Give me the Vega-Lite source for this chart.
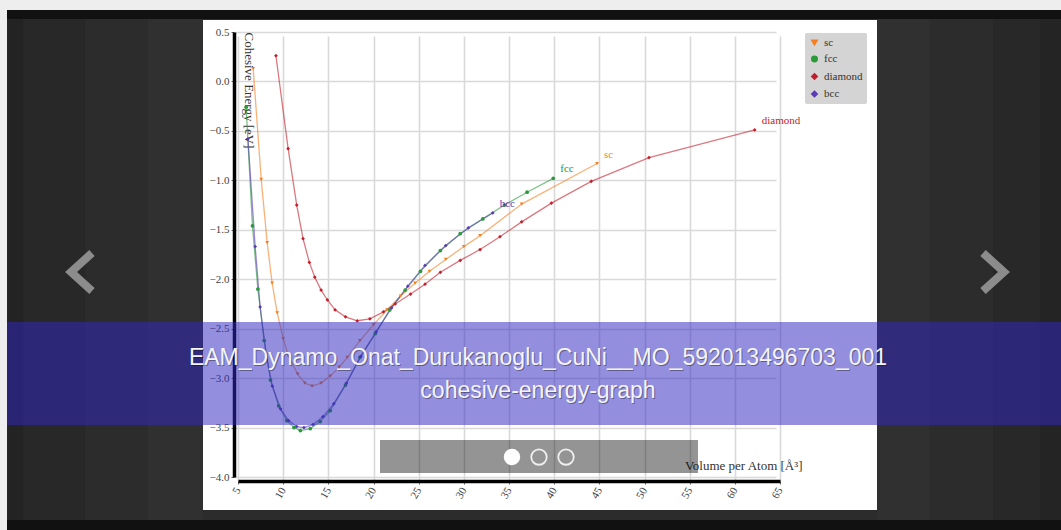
{
  "$schema": "https://vega.github.io/schema/vega-lite/v6.json",
  "width": 542,
  "height": 445,
  "autosize": {"type": "none"},
  "padding": {"left": 238, "top": 32, "right": 281, "bottom": 53},
  "background": "#ffffff",
  "config": {
    "view": {"stroke": null},
    "axis": {
      "grid": true,
      "gridColor": "#d9d9d9",
      "gridWidth": 1.6,
      "domainColor": "#000000",
      "domainWidth": 3.5,
      "offset": 4,
      "tickColor": "#666666",
      "tickSize": 3,
      "labelFont": "Liberation Serif",
      "labelFontSize": 11,
      "labelColor": "#444444",
      "titleFont": "Liberation Serif",
      "titleFontSize": 13,
      "titleFontWeight": "normal",
      "titleColor": "#333333"
    },
    "legend": {
      "fillColor": "#d4d4d4",
      "padding": 4,
      "rowPadding": 4.5,
      "labelFont": "Liberation Serif",
      "labelFontSize": 11,
      "labelColor": "#333333",
      "symbolSize": 30,
      "symbolOpacity": 1,
      "labelOffset": 4,
      "cornerRadius": 2
    }
  },
  "data": {
    "values": [
      {"series": "sc", "x": 6.68, "y": 0.13},
      {"series": "sc", "x": 7.57, "y": -0.99},
      {"series": "sc", "x": 8.23, "y": -1.63},
      {"series": "sc", "x": 8.78, "y": -2.04},
      {"series": "sc", "x": 9.34, "y": -2.34},
      {"series": "sc", "x": 10.0, "y": -2.6},
      {"series": "sc", "x": 10.6, "y": -2.78},
      {"series": "sc", "x": 11.6, "y": -2.96},
      {"series": "sc", "x": 12.4, "y": -3.05},
      {"series": "sc", "x": 13.2, "y": -3.08},
      {"series": "sc", "x": 14.2, "y": -3.05},
      {"series": "sc", "x": 15.2, "y": -2.98},
      {"series": "sc", "x": 16.2, "y": -2.89},
      {"series": "sc", "x": 17.1, "y": -2.79},
      {"series": "sc", "x": 18.5, "y": -2.62},
      {"series": "sc", "x": 20.0, "y": -2.46},
      {"series": "sc", "x": 21.5, "y": -2.31},
      {"series": "sc", "x": 23.0, "y": -2.17},
      {"series": "sc", "x": 24.6, "y": -2.04},
      {"series": "sc", "x": 26.2, "y": -1.92},
      {"series": "sc", "x": 28.0, "y": -1.8},
      {"series": "sc", "x": 30.0, "y": -1.67},
      {"series": "sc", "x": 31.8, "y": -1.56},
      {"series": "sc", "x": 36.4, "y": -1.24},
      {"series": "sc", "x": 44.75, "y": -0.83},
      {"series": "fcc", "x": 5.9, "y": -0.26},
      {"series": "fcc", "x": 6.6, "y": -1.46},
      {"series": "fcc", "x": 7.2, "y": -2.1},
      {"series": "fcc", "x": 7.9, "y": -2.62},
      {"series": "fcc", "x": 8.6, "y": -3.02},
      {"series": "fcc", "x": 9.5, "y": -3.28},
      {"series": "fcc", "x": 10.4, "y": -3.43},
      {"series": "fcc", "x": 11.2, "y": -3.5},
      {"series": "fcc", "x": 11.9, "y": -3.53},
      {"series": "fcc", "x": 13.0, "y": -3.51},
      {"series": "fcc", "x": 14.1, "y": -3.44},
      {"series": "fcc", "x": 15.2, "y": -3.33},
      {"series": "fcc", "x": 16.9, "y": -3.07},
      {"series": "fcc", "x": 18.5, "y": -2.79},
      {"series": "fcc", "x": 20.2, "y": -2.55},
      {"series": "fcc", "x": 21.8, "y": -2.31},
      {"series": "fcc", "x": 23.5, "y": -2.11},
      {"series": "fcc", "x": 25.2, "y": -1.92},
      {"series": "fcc", "x": 27.4, "y": -1.71},
      {"series": "fcc", "x": 29.6, "y": -1.54},
      {"series": "fcc", "x": 32.1, "y": -1.39},
      {"series": "fcc", "x": 34.5, "y": -1.25},
      {"series": "fcc", "x": 37.0, "y": -1.12},
      {"series": "fcc", "x": 39.9, "y": -0.98},
      {"series": "diamond", "x": 9.2, "y": 0.26},
      {"series": "diamond", "x": 10.55, "y": -0.68},
      {"series": "diamond", "x": 11.5, "y": -1.25},
      {"series": "diamond", "x": 12.2, "y": -1.59},
      {"series": "diamond", "x": 12.9, "y": -1.83},
      {"series": "diamond", "x": 13.5, "y": -1.98},
      {"series": "diamond", "x": 14.2, "y": -2.11},
      {"series": "diamond", "x": 14.9, "y": -2.21},
      {"series": "diamond", "x": 15.75, "y": -2.31},
      {"series": "diamond", "x": 16.9, "y": -2.38},
      {"series": "diamond", "x": 18.2, "y": -2.42},
      {"series": "diamond", "x": 19.6, "y": -2.4},
      {"series": "diamond", "x": 21.1, "y": -2.33},
      {"series": "diamond", "x": 22.4, "y": -2.25},
      {"series": "diamond", "x": 24.1, "y": -2.15},
      {"series": "diamond", "x": 25.7, "y": -2.05},
      {"series": "diamond", "x": 27.4, "y": -1.93},
      {"series": "diamond", "x": 29.6, "y": -1.81},
      {"series": "diamond", "x": 31.8, "y": -1.7},
      {"series": "diamond", "x": 34.0, "y": -1.57},
      {"series": "diamond", "x": 36.4, "y": -1.42},
      {"series": "diamond", "x": 39.7, "y": -1.23},
      {"series": "diamond", "x": 44.1, "y": -1.01},
      {"series": "diamond", "x": 50.5, "y": -0.77},
      {"series": "diamond", "x": 62.2, "y": -0.49},
      {"series": "bcc", "x": 6.1, "y": -0.58},
      {"series": "bcc", "x": 6.9, "y": -1.67},
      {"series": "bcc", "x": 7.45, "y": -2.28},
      {"series": "bcc", "x": 8.1, "y": -2.75},
      {"series": "bcc", "x": 8.8, "y": -3.08},
      {"series": "bcc", "x": 9.7, "y": -3.31},
      {"series": "bcc", "x": 10.6, "y": -3.43},
      {"series": "bcc", "x": 11.5, "y": -3.49},
      {"series": "bcc", "x": 12.3, "y": -3.5},
      {"series": "bcc", "x": 13.3, "y": -3.47},
      {"series": "bcc", "x": 14.4, "y": -3.39},
      {"series": "bcc", "x": 15.6, "y": -3.26},
      {"series": "bcc", "x": 17.0, "y": -3.05},
      {"series": "bcc", "x": 18.6, "y": -2.78},
      {"series": "bcc", "x": 20.3, "y": -2.53},
      {"series": "bcc", "x": 22.0, "y": -2.29},
      {"series": "bcc", "x": 23.8, "y": -2.07},
      {"series": "bcc", "x": 25.7, "y": -1.86},
      {"series": "bcc", "x": 28.0, "y": -1.66},
      {"series": "bcc", "x": 30.5, "y": -1.48},
      {"series": "bcc", "x": 33.2, "y": -1.33}
    ]
  },
  "layer": [
    {
      "mark": {"type": "line", "strokeWidth": 1.3, "opacity": 0.6},
      "encoding": {
        "x": {
          "field": "x", "type": "quantitative",
          "scale": {"domain": [5, 65], "nice": false, "zero": false},
          "axis": {
            "values": [5, 10, 15, 20, 25, 30, 35, 40, 45, 50, 55, 60, 65],
            "labelAngle": -60,
            "labelPadding": 4,
            "title": "Volume per Atom [Å³]",
            "titleX": 564, "titleY": -9,
            "titleAlign": "right", "titleBaseline": "bottom", "titleAnchor": null
          }
        },
        "y": {
          "field": "y", "type": "quantitative",
          "scale": {"domain": [-4, 0.5], "nice": false, "zero": false},
          "axis": {
            "values": [-4, -3.5, -3, -2.5, -2, -1.5, -1, -0.5, 0, 0.5],
            "format": ".1f",
            "labelPadding": 2,
            "title": "Cohesive Energy [eV]",
            "titleAngle": 90, "titleX": 7, "titleY": 0,
            "titleAlign": "left", "titleBaseline": "bottom", "titleAnchor": null
          }
        },
        "color": {
          "field": "series", "type": "nominal",
          "scale": {"domain": ["sc", "fcc", "diamond", "bcc"], "range": ["#f47f20", "#2a9a3a", "#c41e2a", "#5a3bb5"]},
          "legend": {"orient": "none", "legendX": 567, "legendY": 1, "title": null}
        },
        "detail": {"field": "series"}
      }
    },
    {
      "mark": {"type": "point", "filled": true, "size": 14, "opacity": 1},
      "encoding": {
        "x": {"field": "x", "type": "quantitative"},
        "y": {"field": "y", "type": "quantitative"},
        "color": {
          "field": "series", "type": "nominal",
          "legend": {"orient": "none", "legendX": 567, "legendY": 1, "title": null}
        },
        "shape": {
          "field": "series", "type": "nominal",
          "scale": {"domain": ["sc", "fcc", "diamond", "bcc"], "range": ["triangle-down", "circle", "diamond", "diamond"]},
          "legend": {"orient": "none", "legendX": 567, "legendY": 1, "title": null}
        }
      }
    },
    {
      "transform": [
        {"joinaggregate": [{"op": "max", "field": "x", "as": "xmax"}], "groupby": ["series"]},
        {"filter": "datum.x == datum.xmax"}
      ],
      "mark": {"type": "text", "align": "left", "baseline": "middle", "dx": 7, "dy": -9, "font": "Liberation Serif", "fontSize": 11},
      "encoding": {
        "x": {"field": "x", "type": "quantitative"},
        "y": {"field": "y", "type": "quantitative"},
        "text": {"field": "series"},
        "color": {
          "field": "series", "type": "nominal",
          "legend": {"orient": "none", "legendX": 567, "legendY": 1, "title": null}
        }
      }
    },
    {
      "data": {"values": [{}]},
      "mark": {"type": "rect", "color": "#2c2c2c"},
      "encoding": {"x": {"datum": -23, "type": "quantitative"}, "x2": {"datum": 1.125}, "y": {"datum": -4.6, "type": "quantitative"}, "y2": {"datum": 0.9}}
    },
    {
      "data": {"values": [{}]},
      "mark": {"type": "rect", "color": "#2c2c2c"},
      "encoding": {"x": {"datum": 75.74, "type": "quantitative"}, "x2": {"datum": 98}, "y": {"datum": -4.6, "type": "quantitative"}, "y2": {"datum": 0.9}}
    },
    {
      "data": {"values": [{}]},
      "mark": {"type": "rect", "color": "#2c2c2c"},
      "encoding": {"x": {"datum": 1.125, "type": "quantitative"}, "x2": {"datum": 75.74}, "y": {"datum": 0.6213, "type": "quantitative"}, "y2": {"datum": 0.9}}
    },
    {
      "data": {"values": [{}]},
      "mark": {"type": "rect", "color": "#2c2c2c"},
      "encoding": {"x": {"datum": 1.125, "type": "quantitative"}, "x2": {"datum": 75.74}, "y": {"datum": -4.6, "type": "quantitative"}, "y2": {"datum": -4.3337}}
    },
    {
      "data": {"values": [{}]},
      "mark": {"type": "rect", "color": "#232323"},
      "encoding": {"x": {"datum": -20.57, "type": "quantitative"}, "x2": {"datum": -18.8}, "y": {"datum": -4.6, "type": "quantitative"}, "y2": {"datum": 0.9}}
    },
    {
      "data": {"values": [{}]},
      "mark": {"type": "rect", "color": "#282828"},
      "encoding": {"x": {"datum": -18.8, "type": "quantitative"}, "x2": {"datum": -11.94}, "y": {"datum": -4.6, "type": "quantitative"}, "y2": {"datum": 0.9}}
    },
    {
      "data": {"values": [{}]},
      "mark": {"type": "rect", "color": "#303030"},
      "encoding": {"x": {"datum": -4.963, "type": "quantitative"}, "x2": {"datum": 1.125}, "y": {"datum": -4.6, "type": "quantitative"}, "y2": {"datum": 0.9}}
    },
    {
      "data": {"values": [{}]},
      "mark": {"type": "rect", "color": "#303030"},
      "encoding": {"x": {"datum": 75.74, "type": "quantitative"}, "x2": {"datum": 81.6}, "y": {"datum": -4.6, "type": "quantitative"}, "y2": {"datum": 0.9}}
    },
    {
      "data": {"values": [{}]},
      "mark": {"type": "rect", "color": "#282828"},
      "encoding": {"x": {"datum": 88.58, "type": "quantitative"}, "x2": {"datum": 93.78}, "y": {"datum": -4.6, "type": "quantitative"}, "y2": {"datum": 0.9}}
    },
    {
      "data": {"values": [{}]},
      "mark": {"type": "rect", "color": "#242424"},
      "encoding": {"x": {"datum": 93.78, "type": "quantitative"}, "x2": {"datum": 98}, "y": {"datum": -4.6, "type": "quantitative"}, "y2": {"datum": 0.9}}
    },
    {
      "data": {"values": [{}]},
      "mark": {"type": "rect", "color": "#eeeeee"},
      "encoding": {"x": {"datum": -23, "type": "quantitative"}, "x2": {"datum": 98}, "y": {"datum": 0.7225, "type": "quantitative"}, "y2": {"datum": 0.9}}
    },
    {
      "data": {"values": [{}]},
      "mark": {"type": "rect", "color": "#eeeeee"},
      "encoding": {"x": {"datum": -23, "type": "quantitative"}, "x2": {"datum": -20.57}, "y": {"datum": -4.6, "type": "quantitative"}, "y2": {"datum": 0.9}}
    },
    {
      "data": {"values": [{}]},
      "mark": {"type": "rect", "color": "#111111"},
      "encoding": {"x": {"datum": -20.57, "type": "quantitative"}, "x2": {"datum": 98}, "y": {"datum": 0.6315, "type": "quantitative"}, "y2": {"datum": 0.7225}}
    },
    {
      "data": {"values": [{}]},
      "mark": {"type": "rect", "color": "#111111"},
      "encoding": {"x": {"datum": -20.57, "type": "quantitative"}, "x2": {"datum": 98}, "y": {"datum": -4.6, "type": "quantitative"}, "y2": {"datum": -4.4348}}
    },
    {
      "data": {"values": [{}]},
      "mark": {"type": "rect", "color": "#3028bf", "opacity": 0.52},
      "encoding": {"x": {"datum": -20.57, "type": "quantitative"}, "x2": {"datum": 98}, "y": {"datum": -3.474, "type": "quantitative"}, "y2": {"datum": -2.4326}}
    },
    {
      "data": {"values": [{}]},
      "mark": {"type": "text", "text": "EAM_Dynamo_Onat_Durukanoglu_CuNi__MO_592013496703_001", "font": "Liberation Sans", "fontSize": 23, "align": "center", "baseline": "alphabetic", "color": "#000000", "opacity": 0.35, "dx": 1, "dy": 1},
      "encoding": {"x": {"datum": 38.21, "type": "quantitative"}, "y": {"datum": -2.867, "type": "quantitative"}}
    },
    {
      "data": {"values": [{}]},
      "mark": {"type": "text", "text": "cohesive-energy-graph", "font": "Liberation Sans", "fontSize": 23, "align": "center", "baseline": "alphabetic", "color": "#000000", "opacity": 0.35, "dx": 1, "dy": 1},
      "encoding": {"x": {"datum": 38.21, "type": "quantitative"}, "y": {"datum": -3.201, "type": "quantitative"}}
    },
    {
      "data": {"values": [{}]},
      "mark": {"type": "text", "text": "EAM_Dynamo_Onat_Durukanoglu_CuNi__MO_592013496703_001", "font": "Liberation Sans", "fontSize": 23, "align": "center", "baseline": "alphabetic", "color": "#f4f4f4"},
      "encoding": {"x": {"datum": 38.21, "type": "quantitative"}, "y": {"datum": -2.867, "type": "quantitative"}}
    },
    {
      "data": {"values": [{}]},
      "mark": {"type": "text", "text": "cohesive-energy-graph", "font": "Liberation Sans", "fontSize": 23, "align": "center", "baseline": "alphabetic", "color": "#f4f4f4"},
      "encoding": {"x": {"datum": 38.21, "type": "quantitative"}, "y": {"datum": -3.201, "type": "quantitative"}}
    },
    {
      "data": {"values": [{}]},
      "mark": {"type": "rect", "color": "#000000", "opacity": 0.42},
      "encoding": {"x": {"datum": 20.72, "type": "quantitative"}, "x2": {"datum": 55.92}, "y": {"datum": -3.96, "type": "quantitative"}, "y2": {"datum": -3.626}}
    },
    {
      "data": {"values": [{}]},
      "mark": {"type": "point", "shape": "circle", "filled": true, "color": "#ffffff", "opacity": 1, "size": 270},
      "encoding": {"x": {"datum": 35.33, "type": "quantitative"}, "y": {"datum": -3.798, "type": "quantitative"}}
    },
    {
      "data": {"values": [{}]},
      "mark": {"type": "point", "shape": "circle", "filled": false, "stroke": "#ffffff", "strokeWidth": 1.8, "opacity": 0.85, "size": 240},
      "encoding": {"x": {"datum": 38.32, "type": "quantitative"}, "y": {"datum": -3.798, "type": "quantitative"}}
    },
    {
      "data": {"values": [{}]},
      "mark": {"type": "point", "shape": "circle", "filled": false, "stroke": "#ffffff", "strokeWidth": 1.8, "opacity": 0.85, "size": 240},
      "encoding": {"x": {"datum": 41.31, "type": "quantitative"}, "y": {"datum": -3.798, "type": "quantitative"}}
    },
    {
      "data": {"values": [{}]},
      "mark": {"type": "point", "shape": "M 0.5 -0.95 L -0.55 0 L 0.5 0.95", "filled": false, "stroke": "#8c8c8c", "strokeWidth": 8, "strokeJoin": "miter", "opacity": 1, "size": 1600},
      "encoding": {"x": {"datum": -12.27, "type": "quantitative"}, "y": {"datum": -1.927, "type": "quantitative"}}
    },
    {
      "data": {"values": [{}]},
      "mark": {"type": "point", "shape": "M -0.5 -0.95 L 0.55 0 L -0.5 0.95", "filled": false, "stroke": "#8c8c8c", "strokeWidth": 8, "strokeJoin": "miter", "opacity": 1, "size": 1600},
      "encoding": {"x": {"datum": 88.58, "type": "quantitative"}, "y": {"datum": -1.927, "type": "quantitative"}}
    }
  ]
}
